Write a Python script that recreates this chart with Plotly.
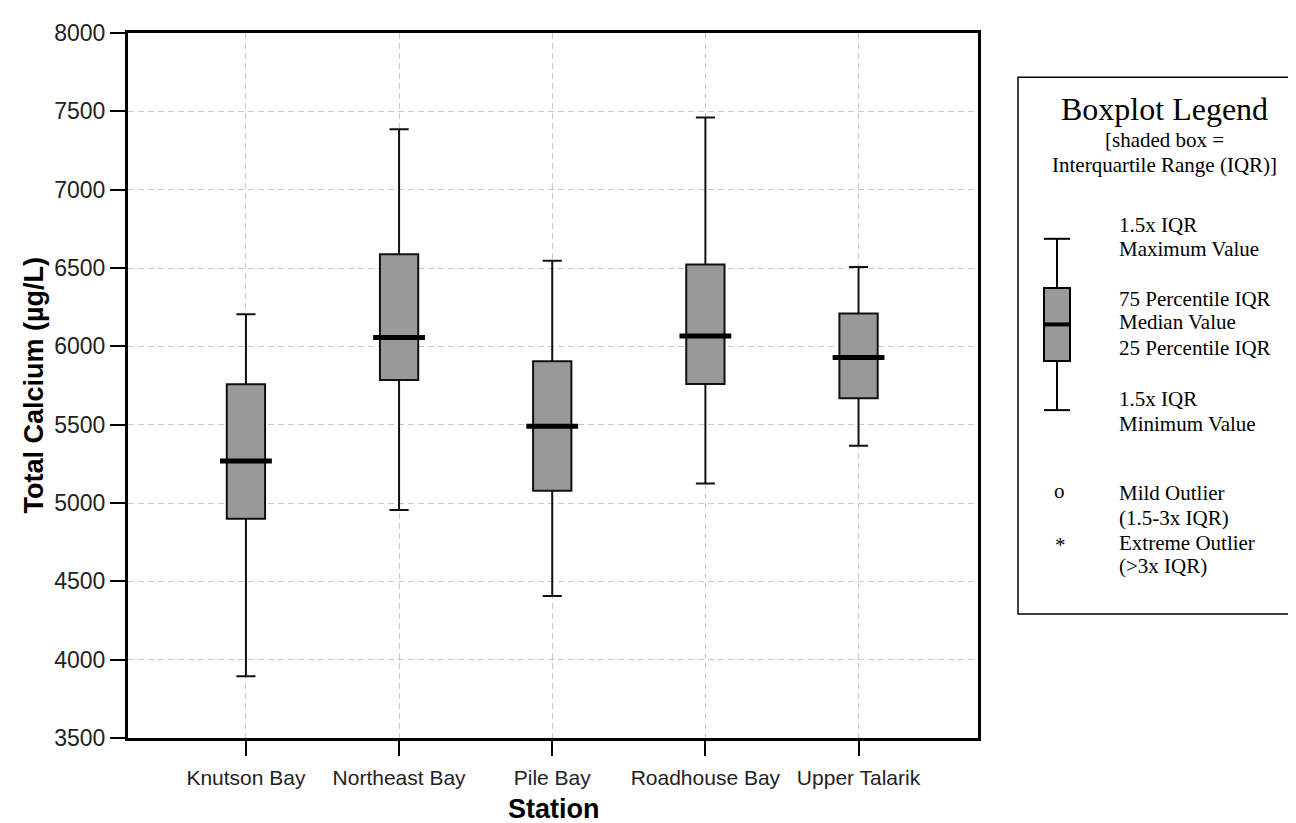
import plotly.graph_objects as go

stations = ["Knutson Bay", "Northeast Bay", "Pile Bay", "Roadhouse Bay", "Upper Talarik"]
lower_whisker = [3894, 4956, 4407, 5125, 5366]
q1 = [4899, 5785, 5078, 5760, 5668]
median = [5268, 6057, 5490, 6066, 5929]
q3 = [5758, 6587, 5904, 6522, 6210]
upper_whisker = [6204, 7386, 6547, 7460, 6507]

y_ticks = [3500, 4000, 4500, 5000, 5500, 6000, 6500, 7000, 7500, 8000]

# plot area in pixels, used for titles and the legend panel on the right
L, R, T, B = 120, 970, 14, 730


def px(x):
    return (x - L) / (R - L)


def py(y):
    return (B - y) / (B - T)


fig = go.Figure()

fig.add_trace(
    go.Box(
        x=stations,
        q1=q1,
        median=median,
        q3=q3,
        lowerfence=lower_whisker,
        upperfence=upper_whisker,
        width=0.25,
        whiskerwidth=0.5,
        fillcolor="#999999",
        line=dict(color="#111111", width=2),
        boxpoints=False,
        hoverinfo="skip",
        showlegend=False,
    )
)
# thick median bar
fig.add_trace(
    go.Scatter(
        x=stations,
        y=median,
        mode="markers",
        marker=dict(symbol="line-ew", size=37, line=dict(color="black", width=5)),
        hoverinfo="skip",
        showlegend=False,
    )
)

sans = "Liberation Sans, Arial, sans-serif"
grid = dict(showgrid=True, gridcolor="#c8c8c8", griddash="6px,4px", gridwidth=1)
frame = dict(showline=True, linecolor="black", linewidth=3, mirror=True,
             ticks="outside", ticklen=15, tickwidth=2, tickcolor="black")

fig.update_layout(
    width=1296,
    height=823,
    margin=dict(l=L, r=1296 - R, t=T, b=823 - B),
    plot_bgcolor="white",
    paper_bgcolor="white",
    xaxis=dict(
        type="category",
        range=[-0.77, 4.78],
        tickfont=dict(size=21, family=sans, color="#222222"),
        ticklabelstandoff=4,
        **frame,
        **grid,
    ),
    yaxis=dict(
        range=[3500, 8000],
        tickvals=y_ticks,
        zeroline=False,
        tickfont=dict(size=23, family=sans, color="#222222"),
        **frame,
        **grid,
    ),
)

# axis titles
fig.add_annotation(
    text="<b>Station</b>", xref="paper", yref="paper", x=px(546), y=py(802),
    xanchor="center", yanchor="middle", showarrow=False,
    font=dict(size=27, family=sans, color="black"),
)
fig.add_annotation(
    text="<b>Total Calcium (µg/L)</b>", xref="paper", yref="paper", x=px(25), y=py(372),
    xanchor="center", yanchor="middle", textangle=-90, showarrow=False,
    font=dict(size=27, family=sans, color="black"),
)

# legend panel
shapes = [
    dict(type="rect", xref="paper", yref="paper",
         x0=px(1010), x1=px(1295), y0=py(604), y1=py(59),
         line=dict(color="black", width=1.5), fillcolor="white"),
    # icon whisker
    dict(type="line", xref="paper", yref="paper",
         x0=px(1049), x1=px(1049), y0=py(397), y1=py(223),
         line=dict(color="black", width=2)),
    dict(type="line", xref="paper", yref="paper",
         x0=px(1036), x1=px(1062), y0=py(223), y1=py(223),
         line=dict(color="black", width=2)),
    dict(type="line", xref="paper", yref="paper",
         x0=px(1036), x1=px(1062), y0=py(397), y1=py(397),
         line=dict(color="black", width=2)),
    dict(type="rect", xref="paper", yref="paper",
         x0=px(1036), x1=px(1062), y0=py(347), y1=py(273),
         line=dict(color="black", width=2), fillcolor="#999999"),
    dict(type="line", xref="paper", yref="paper",
         x0=px(1036), x1=px(1062), y0=py(310), y1=py(310),
         line=dict(color="black", width=4)),
]
fig.update_layout(shapes=shapes)

serif = "Liberation Serif, Times New Roman, serif"
legend_texts = [
    ("Boxplot Legend", 1156, 91, 32, "center"),
    ("[shaded box =", 1156, 123, 21, "center"),
    ("Interquartile Range (IQR)]", 1156, 148, 21, "center"),
    ("1.5x IQR", 1109, 209, 21, "left"),
    ("Maximum Value", 1109, 233, 21, "left"),
    ("75 Percentile IQR", 1109, 284, 21, "left"),
    ("Median Value", 1109, 308, 21, "left"),
    ("25 Percentile IQR", 1109, 334, 21, "left"),
    ("1.5x IQR", 1109, 386, 21, "left"),
    ("Minimum Value", 1109, 411, 21, "left"),
    ("o", 1051, 479, 21, "center"),
    ("Mild Outlier", 1109, 481, 21, "left"),
    ("(1.5-3x IQR)", 1109, 507, 21, "left"),
    ("*", 1052, 534, 21, "center"),
    ("Extreme Outlier", 1109, 532, 21, "left"),
    ("(>3x IQR)", 1109, 555, 21, "left"),
]
for text, x, y, size, anchor in legend_texts:
    fig.add_annotation(
        text=text, xref="paper", yref="paper", x=px(x), y=py(y),
        xanchor=anchor, yanchor="middle", showarrow=False,
        font=dict(family=serif, size=size, color="black"),
    )

fig.write_html("out.html")
